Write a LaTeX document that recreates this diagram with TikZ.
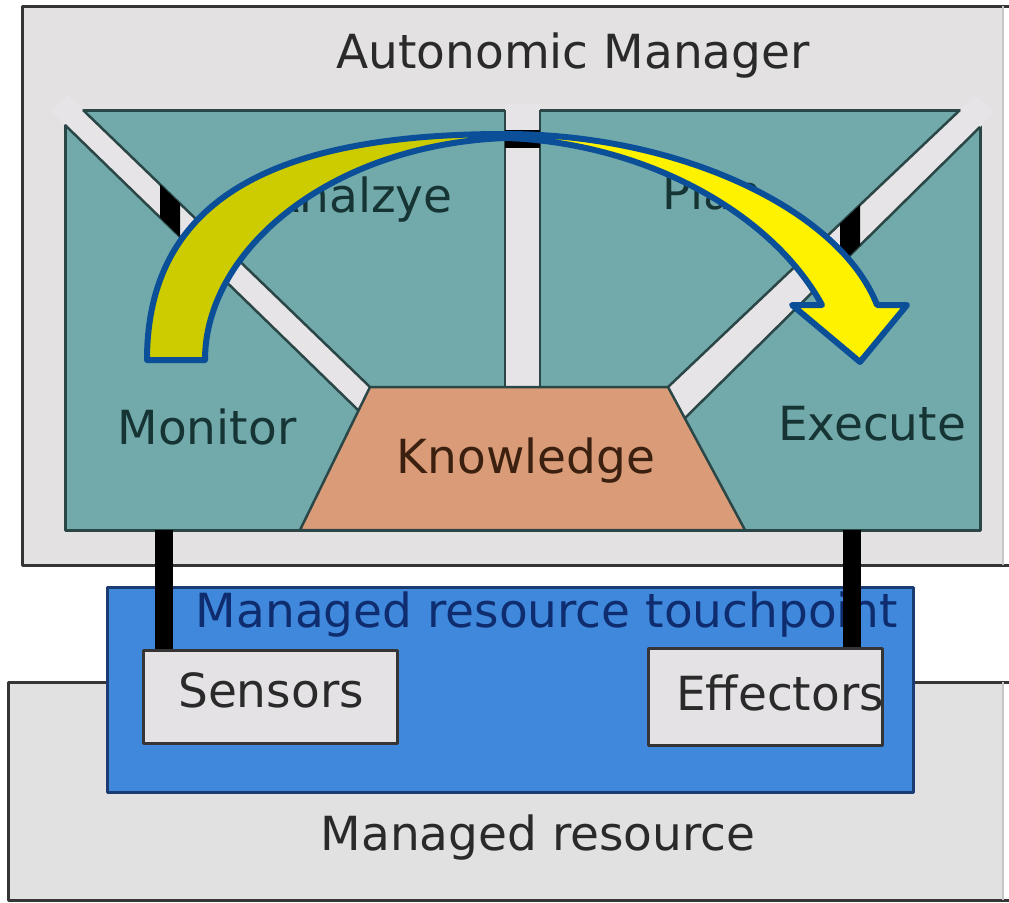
\documentclass[tikz,border=0pt]{standalone}
\usepackage{fontspec}
\setmainfont{DejaVu Sans}
\usetikzlibrary{positioning}

\definecolor{mgrgray}{HTML}{E3E1E2}
\definecolor{resgray}{HTML}{E1E1E1}
\definecolor{framecol}{HTML}{353535}
\definecolor{tealfill}{HTML}{72AAAB}
\definecolor{tealline}{HTML}{2B4646}
\definecolor{bargray}{HTML}{E6E4E7}
\definecolor{knowfill}{HTML}{DA9B78}
\definecolor{tpblue}{HTML}{3F88DC}
\definecolor{tpline}{HTML}{1B3C70}
\definecolor{tptext}{HTML}{0E2C6E}
\definecolor{boxgray}{HTML}{E4E2E5}
\definecolor{mgrtext}{HTML}{2A2A2A}
\definecolor{tealtext}{HTML}{163434}
\definecolor{knowtext}{HTML}{3B2010}
\definecolor{olivefill}{HTML}{CCCC00}
\definecolor{arrowblue}{HTML}{0A4F98}

\begin{document}
\begin{tikzpicture}
[
						x=1pt, y=-1pt,
						line join=round,
						txt/.style = {inner sep=0, anchor=base, font=\fontsize{47}{50}\selectfont},
						frame/.style = {draw=framecol, line width=3pt},
						pbox/.style = {draw=framecol, fill=boxgray, line width=3pt, inner sep=0},
						rim/.style = {draw=tealline, line width=2.5pt},
						wire/.style = {draw=black, line width=18pt},
						cyclearrow/.style = {draw=arrowblue, line width=6pt}
					]
\useasboundingbox (0,0) rectangle (1009,902);
\clip (0,0) rectangle (1009,902);
\fill[white] (0,0) rectangle (1009,902);

% managed resource
\fill[resgray] (8,682) rectangle (1003,900);
\draw[frame] (1012,682) -- (8,682) -- (8,900) -- (1012,900);
\draw[gray!45, line width=1.5pt] (1003,682) -- (1003,900);

% autonomic manager
\fill[mgrgray] (22,6) rectangle (1003,565);
\draw[frame] (1012,6) -- (22,6) -- (22,565) -- (1012,565);
\draw[gray!45, line width=1.5pt] (1003,6) -- (1003,565);

% touchpoint
\node[draw=tpline, fill=tpblue, line width=3pt, inner sep=0,
      minimum width=806pt, minimum height=205pt] (tp) at (510,689.5) {};
\node[pbox, minimum width=254pt, minimum height=93pt] (sensors) at (270,696.5) {};
\node[pbox, minimum width=234pt, minimum height=97pt] (effectors) at (765,696.5) {};

% MAPE regions
\filldraw[fill=tealfill, draw=tealline, line width=3pt] (65,110) rectangle (980,530);

\fill[bargray] (68,95.5) -- (370,387) -- (358,410) -- (50,110.4) -- cycle;
\draw[rim] (83,110) -- (370,387);
\draw[rim] (65,125) -- (358,410);
\fill[black] (160,184.3) -- (180,203.6) -- (180,236.9) -- (160,217.4) -- cycle;

\fill[bargray] (975,95.8) -- (668,387) -- (685,418) -- (995,112.2) -- cycle;
\draw[rim] (960,110) -- (668,387);
\draw[rim] (980,127) -- (685,418);
\fill[black] (840,223.9) -- (860,204.9) -- (860,245.3) -- (840,265) -- cycle;

\fill[bargray] (505,104) rectangle (540,387);
\draw[rim] (505,110) -- (505,387);
\draw[rim] (540,110) -- (540,387);
\fill[black] (505,130) rectangle (540,148);

\filldraw[fill=knowfill, draw=tealline, line width=2.5pt]
	(370,387) -- (668,387) -- (745,530) -- (300,530) -- cycle;

% labels
\node[txt, text=mgrtext] (am) at (573,68) {Autonomic Manager};
\node[txt, text=tealtext] (analyze) at (360,212) {Analzye};
\node[txt, text=tealtext] (plan) at (712,209) {Plan};
\node[txt, text=tealtext] (monitor) at (207,444) {Monitor};
\node[txt, text=tealtext] (execute) at (872,440) {Execute};
\node[txt, text=knowtext] (knowledge) at (526,473) {Knowledge};
\node[txt, text=tptext] (tplabel) at (547,627) {Managed resource touchpoint};
\node[txt, text=mgrtext] (senslabel) at (271,707) {Sensors};
\node[txt, text=mgrtext] (efflabel) at (780,710) {Effectors};
\node[txt, text=mgrtext] (mr) at (538,850) {Managed resource};

% sensor / effector wires
\coordinate (monS) at (164,530);
\coordinate (exeS) at (852,530);
\draw[wire] (monS) -- (monS |- sensors.north);
\draw[wire] (exeS) -- (exeS |- effectors.north);

% control loop arrow
\fill[olivefill] (147,360) .. controls (147,190) and (290,134) .. (505,134)
	-- (505,138) .. controls (330,145) and (205,250) .. (205,360) -- cycle;
\fill[yellow] (505,134) .. controls (680,134) and (840,210) .. (877,305)
	-- (907,305) -- (860,362) -- (792,305) -- (822,305)
	.. controls (770,210) and (640,142) .. (505,138) -- cycle;
\draw[cyclearrow] (147,360) .. controls (147,190) and (290,134) .. (505,134)
	.. controls (680,134) and (840,210) .. (877,305)
	-- (907,305) -- (860,362) -- (792,305) -- (822,305)
	.. controls (770,210) and (640,142) .. (505,138)
	.. controls (330,145) and (205,250) .. (205,360) -- cycle;
\end{tikzpicture}
\end{document}
